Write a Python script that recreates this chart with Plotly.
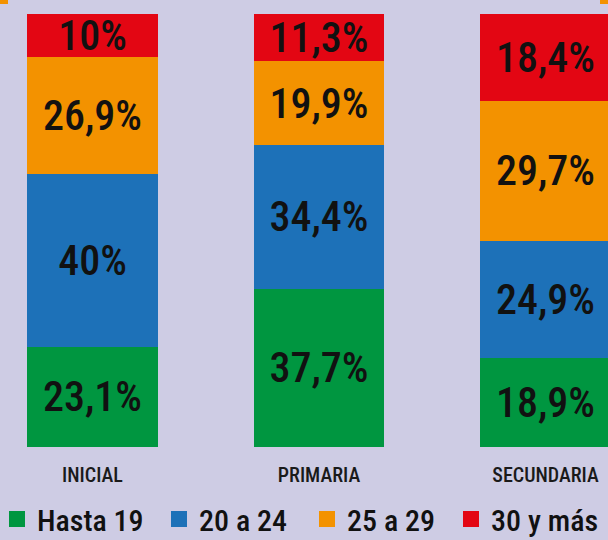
import plotly.graph_objects as go

# Niveles educativos y porcentaje de docentes por grupo de edad
niveles = ["INICIAL", "PRIMARIA", "SECUNDARIA"]
hasta_19 = [23.1, 37.7, 18.9]
de_20_a_24 = [40, 34.4, 24.9]
de_25_a_29 = [26.9, 19.9, 29.7]
de_30_y_mas = [10, 11.3, 18.4]

grupos = ["Hasta 19", "20 a 24", "25 a 29", "30 y más"]
colores = ["#009640", "#1d71b8", "#f39200", "#e30613"]
series = [hasta_19, de_20_a_24, de_25_a_29, de_30_y_mas]

FUENTE = "Roboto Condensed, Liberation Sans Narrow, Roboto, sans-serif"
FONDO = "#cecce4"


def etiqueta(v):
    return f"{v:g}".replace(".", ",") + "%"


fig = go.Figure()

# Barras apiladas, normalizadas al 100 %
for nombre, color, valores in zip(grupos, colores, series):
    fig.add_trace(go.Bar(
        x=niveles,
        y=valores,
        name=nombre,
        marker=dict(color=color, line=dict(width=0)),
        text=[etiqueta(v) for v in valores],
        textposition="inside",
        insidetextanchor="middle",
        textangle=0,
        textfont=dict(family=FUENTE, size=42, color="#111111", weight=500),
        showlegend=False,
        hoverinfo="skip",
    ))

# Leyenda: una por grupo, cada una con su posición
posiciones_leyenda = [-3, 159, 307, 451]
leyendas = {}
for i, (nombre, color, xpos) in enumerate(zip(grupos, colores, posiciones_leyenda)):
    clave = "legend" if i == 0 else f"legend{i + 1}"
    fig.add_trace(go.Scatter(
        x=[None], y=[None],
        mode="markers",
        name=nombre,
        marker=dict(symbol="square", size=19, color=color),
        legend=clave,
        showlegend=True,
    ))
    leyendas[clave] = dict(
        x=xpos / 608, xanchor="left",
        y=(447 - 519) / 433, yanchor="middle",
        orientation="h",
        bgcolor="rgba(0,0,0,0)",
        borderwidth=0,
        font=dict(family=FUENTE, size=30, color="#111111", weight=500),
        itemclick=False, itemdoubleclick=False,
    )

fig.update_layout(
    width=608,
    height=540,
    margin=dict(l=0, r=0, t=14, b=93, pad=0, autoexpand=False),
    paper_bgcolor=FONDO,
    plot_bgcolor=FONDO,
    barmode="stack",
    barnorm="percent",
    bargap=0.426,
    uniformtext=dict(minsize=42, mode="show"),
    xaxis=dict(
        range=[-92.5 / 226.5, -92.5 / 226.5 + 608 / 226.5],
        showgrid=False, zeroline=False, showline=False,
        ticks="", ticklabelstandoff=14,
        tickfont=dict(family=FUENTE, size=20, color="#1a1a1a", weight=500),
        fixedrange=True,
    ),
    yaxis=dict(range=[0, 100], visible=False, fixedrange=True),
    **leyendas,
)

# Marcas naranjas del encabezado
for x0, x1 in [(0, 8), (600, 608)]:
    fig.add_shape(
        type="rect", xref="paper", yref="paper",
        x0=x0 / 608, x1=x1 / 608,
        y0=1 + 10 / 433, y1=1 + 14 / 433,
        fillcolor="#f39200", line=dict(width=0), layer="above",
    )

fig.write_html("out.html")
